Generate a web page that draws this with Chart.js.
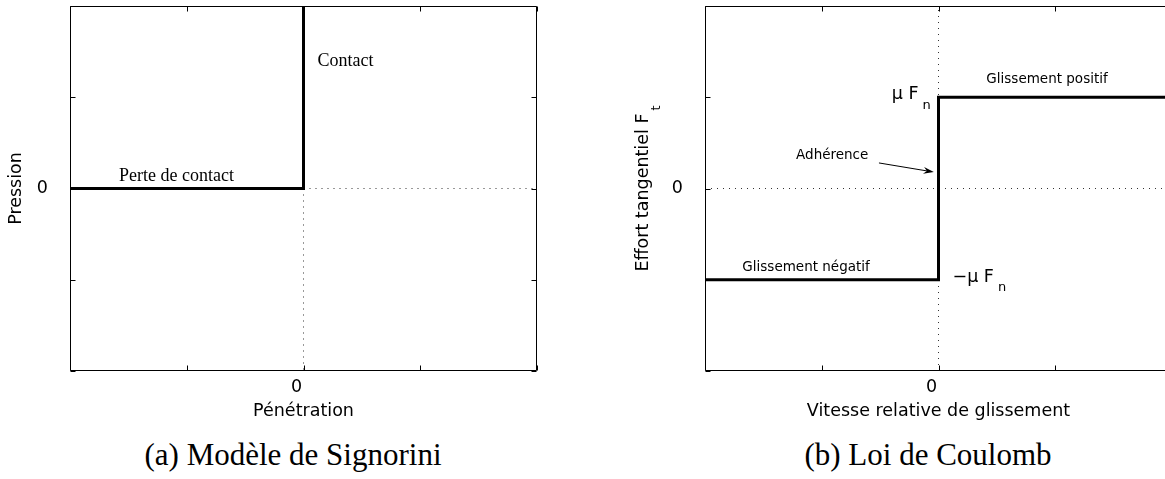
<!DOCTYPE html>
<html>
<head>
<meta charset="utf-8">
<script src="https://cdn.jsdelivr.net/npm/chart.js@4.4.1/dist/chart.umd.min.js"></script>
<style>
  html, body { margin: 0; padding: 0; background: #fff; width: 1165px; height: 479px; overflow: hidden; position: relative; }
  .panel { position: absolute; top: 0; }
  .caption { position: absolute; top: 437px; width: 400px; line-height: 36px; font-family: "Liberation Serif", serif; font-size: 31px; color: #000; text-align: center; white-space: nowrap; }
</style>
</head>
<body>
<div class="panel" style="left:0"><canvas id="signorini" width="580" height="430"></canvas></div>
<div class="panel" style="left:600px"><canvas id="coulomb" width="620" height="430"></canvas></div>
<div class="caption" style="left:93px">(a) Modèle de Signorini</div>
<div class="caption" style="left:728px">(b) Loi de Coulomb</div>
<script>
// shared axes: -2..2, only the 0 tick is labelled
const axisTicks = [-2, -1, 0, 1, 2];
const axisTickLabels = ['', '', '0', '', ''];

// (a) Signorini: pressure vs penetration
const signoriniX = [-2, 0, 0];
const signoriniY = [0, 0, 2];
const signoriniGuideHX = [0, 2];
const signoriniGuideHY = [0, 0];
const signoriniGuideVX = [0, 0];
const signoriniGuideVY = [0, -2];

// (b) Coulomb: tangential force vs sliding speed (mu*Fn = 1)
const coulombX = [-2, 0, 0, 2];
const coulombY = [-1, -1, 1, 1];
const coulombGuideHX = [-2, 2];
const coulombGuideHY = [0, 0];
const coulombGuideVX = [0, 0];
const coulombGuideVY = [-2, 2];

// annotations, anchored in data units
const signoriniNotes = [
  { text: 'Contact', x: 0.12, y: 1.39 },
  { text: 'Perte de contact', x: -1.58, y: 0.13 }
];
const coulombNotes = [
  { text: 'Glissement positif', x: 0.41, y: 1.20 },
  { text: 'Adhérence', x: -1.22, y: 0.36 },
  { text: 'Glissement négatif', x: -1.68, y: -0.87 },
  { text: 'μ F', sub: 'n', x: -0.40, y: 1.03 },
  { text: '−μ F', sub: 'n', x: 0.12, y: -0.97 }
];
const arrowFrom = [-0.51, 0.28];
const arrowTo = [-0.04, 0.18];

Chart.defaults.font.family = '"DejaVu Sans", sans-serif';
Chart.defaults.color = '#000';

const toPoints = (xs, ys) => xs.map((v, i) => ({ x: v, y: ys[i] }));

const framePlugin = {
    id: 'frame',
    afterDatasetsDraw(chart, args, opts) {
        const { ctx, chartArea: a, scales: { x, y } } = chart;
        const l = Math.round(a.left) + 0.5, r = Math.round(a.right) - 0.5;
        const t = Math.round(a.top) + 0.5, b = Math.round(a.bottom) - 0.5;
        ctx.save();
        ctx.strokeStyle = '#000';
        ctx.lineWidth = 1;
        ctx.beginPath();
        ctx.rect(l, t, r - l, b - t);
        axisTicks.forEach(v => {
            const px = Math.round(x.getPixelForValue(v)) + 0.5;
            ctx.moveTo(px, t); ctx.lineTo(px, t + 5);
            ctx.moveTo(px, b); ctx.lineTo(px, b - 5);
            const py = Math.round(y.getPixelForValue(v)) + 0.5;
            ctx.moveTo(l, py); ctx.lineTo(l + 5, py);
            ctx.moveTo(r, py); ctx.lineTo(r - 5, py);
        });
        ctx.stroke();

        ctx.fillStyle = '#000';
        ctx.textBaseline = 'middle';
        ctx.textAlign = 'left';
        (opts.notes || []).forEach(n => {
            const px = x.getPixelForValue(n.x);
            const py = y.getPixelForValue(n.y);
            ctx.font = n.sub ? opts.labelFont : opts.noteFont;
            ctx.fillText(n.text, px, py);
            if (n.sub) {
                const w = ctx.measureText(n.text).width;
                ctx.font = opts.subFont;
                ctx.fillText(n.sub, px + w + 4, py + 11);
            }
        });

        if (opts.arrow) {
            const x0 = x.getPixelForValue(opts.arrow[0][0]), y0 = y.getPixelForValue(opts.arrow[0][1]);
            const x1 = x.getPixelForValue(opts.arrow[1][0]), y1 = y.getPixelForValue(opts.arrow[1][1]);
            const ang = Math.atan2(y1 - y0, x1 - x0);
            ctx.lineWidth = 1;
            ctx.beginPath();
            ctx.moveTo(x0, y0);
            ctx.lineTo(x1 - 6 * Math.cos(ang), y1 - 6 * Math.sin(ang));
            ctx.stroke();
            ctx.beginPath();
            ctx.moveTo(x1, y1);
            ctx.lineTo(x1 - 11 * Math.cos(ang - 0.32), y1 - 11 * Math.sin(ang - 0.32));
            ctx.lineTo(x1 - 7 * Math.cos(ang), y1 - 7 * Math.sin(ang));
            ctx.lineTo(x1 - 11 * Math.cos(ang + 0.32), y1 - 11 * Math.sin(ang + 0.32));
            ctx.closePath();
            ctx.fill();
        }

        // rotated y title with a subscript (not possible with the built-in title)
        if (opts.yTitle) {
            const cy = (a.top + a.bottom) / 2;
            ctx.font = opts.labelFont;
            const w1 = ctx.measureText(opts.yTitle.text).width;
            ctx.font = opts.subFont;
            const w2 = ctx.measureText(opts.yTitle.sub).width;
            const total = w1 + 3 + w2;
            ctx.translate(opts.yTitle.x, cy);
            ctx.rotate(-Math.PI / 2);
            ctx.font = opts.labelFont;
            ctx.fillText(opts.yTitle.text, -total / 2, 0);
            ctx.font = opts.subFont;
            ctx.fillText(opts.yTitle.sub, -total / 2 + w1 + 3, 14);
        }
        ctx.restore();
    }
};

function makeScale(axis, size, title) {
    return {
        type: 'linear',
        min: -2,
        max: 2,
        grid: { display: false, drawTicks: false },
        border: { display: false },
        afterBuildTicks: s => { s.ticks = axisTicks.map(v => ({ value: v })); },
        afterFit: s => {
            if (axis === 'x') s.height = size; else s.width = size;
            s.paddingTop = 0; s.paddingBottom = 0; s.paddingLeft = 0; s.paddingRight = 0;
        },
        ticks: {
            autoSkip: false,
            maxRotation: 0,
            padding: axis === 'x' ? 6 : 22,
            labelOffset: axis === 'x' ? -7 : 0,
            font: { size: 17.5 },
            callback: (v, i) => axisTickLabels[i]
        },
        title: title ? {
            display: true,
            text: title,
            font: { size: 17.5 },
            padding: axis === 'x' ? { top: 0, bottom: 8 } : { top: 6, bottom: 0 }
        } : { display: false }
    };
}

function lineSet(points, width, dash, color) {
    return {
        data: points,
        showLine: true,
        borderColor: color,
        borderWidth: width,
        borderDash: dash,
        pointRadius: 0,
        tension: 0,
        borderJoinStyle: 'miter',
        fill: false
    };
}

function makeChart(id, datasets, scales, padding, plugOpts) {
    return new Chart(document.getElementById(id), {
        type: 'scatter',
        data: { datasets },
        options: {
            responsive: false,
            animation: false,
            layout: { padding },
            scales,
            plugins: {
                legend: { display: false },
                tooltip: { enabled: false },
                frame: plugOpts
            }
        },
        plugins: [framePlugin]
    });
}

makeChart('signorini', [
    lineSet(toPoints(signoriniX, signoriniY), 3, [], '#000'),
    lineSet(toPoints(signoriniGuideHX, signoriniGuideHY), 1, [1, 5], '#333'),
    lineSet(toPoints(signoriniGuideVX, signoriniGuideVY), 1, [1, 5], '#333')
], {
    x: makeScale('x', 59, 'Pénétration'),
    y: makeScale('y', 70, 'Pression')
}, { left: 0, top: 6, right: 43, bottom: 0 }, {
    notes: signoriniNotes,
    noteFont: '18px "Liberation Serif", serif'
});

makeChart('coulomb', [
    lineSet(toPoints(coulombX, coulombY), 3, [], '#000'),
    lineSet(toPoints(coulombGuideHX, coulombGuideHY), 1, [1, 5], '#333'),
    lineSet(toPoints(coulombGuideVX, coulombGuideVY), 1, [1, 5], '#333')
], {
    x: makeScale('x', 59, 'Vitesse relative de glissement'),
    y: makeScale('y', 105, null)
}, { left: 0, top: 6, right: 48, bottom: 0 }, {
    notes: coulombNotes,
    noteFont: '13.5px "DejaVu Sans", sans-serif',
    labelFont: '17.5px "DejaVu Sans", sans-serif',
    subFont: '13px "DejaVu Sans", sans-serif',
    arrow: [arrowFrom, arrowTo],
    yTitle: { text: 'Effort tangentiel F', sub: 't', x: 43 }
});
</script>
</body>
</html>
